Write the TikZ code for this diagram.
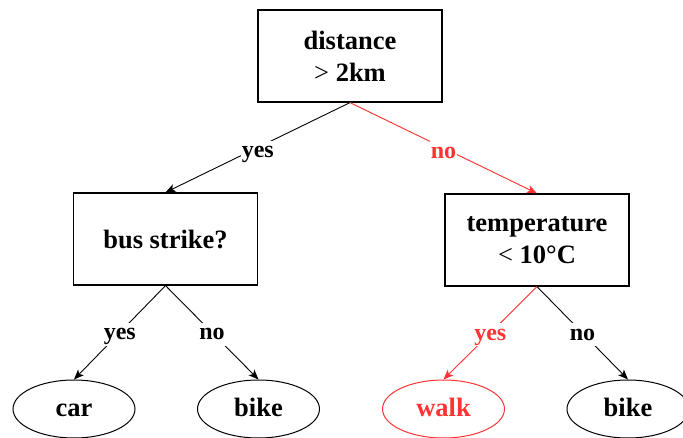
\documentclass[tikz,border=0pt]{standalone}
\usepackage{fontspec}
\setmainfont{Liberation Serif}
\usetikzlibrary{arrows.meta,shapes.geometric}
\definecolor{hot}{RGB}{255,51,51}
\begin{document}
\begin{tikzpicture}[x=1pt,y=-1pt,
  box/.style={draw,line width=1.2pt,minimum width=184pt,minimum height=92pt,align=center,font=\fontsize{26.5}{32}\selectfont\bfseries},
  leaf/.style={draw,ellipse,line width=1pt,minimum width=122pt,minimum height=58pt,inner sep=0pt,text height=19pt,text depth=3pt,font=\fontsize{26.5}{30}\selectfont\bfseries},
  conn/.style={line width=0.9pt,-{Stealth[length=10pt,width=8pt,inset=2.5pt]}},
  lbl/.style={fill=white,inner sep=1pt,text height=16pt,text depth=5pt,font=\fontsize{24}{28}\selectfont\bfseries}]
\useasboundingbox (0,0) rectangle (683,438);
\node[box] (root) at (350,56) {distance\\{\mdseries >} 2km};
\node[box] (bus) at (165.5,239) {bus strike?};
\node[box] (temp) at (537,240) {temperature\\{\mdseries <} 10°C};
\node[leaf] (car) at (74,409) {car};
\node[leaf] (bike1) at (258.5,409) {bike};
\node[leaf,draw=hot,text=hot] (walk) at (443.5,409) {walk};
\node[leaf] (bike2) at (628,409) {bike};
\draw[conn] (root.south) -- node[lbl,yshift=-5pt]{yes} (bus.north);
\draw[conn,draw=hot,fill=hot] (root.south) -- node[lbl,yshift=-5pt,text=hot]{no} (temp.north);
\draw[conn] (bus.south) -- node[lbl,yshift=-1.5pt]{yes} (car.north);
\draw[conn] (bus.south) -- node[lbl,yshift=-1.5pt]{no} (bike1.north);
\draw[conn,draw=hot,fill=hot] (temp.south) -- node[lbl,yshift=-1.5pt,text=hot]{yes} (walk.north);
\draw[conn] (temp.south) -- node[lbl,yshift=-1.5pt]{no} (bike2.north);
\end{tikzpicture}
\end{document}
